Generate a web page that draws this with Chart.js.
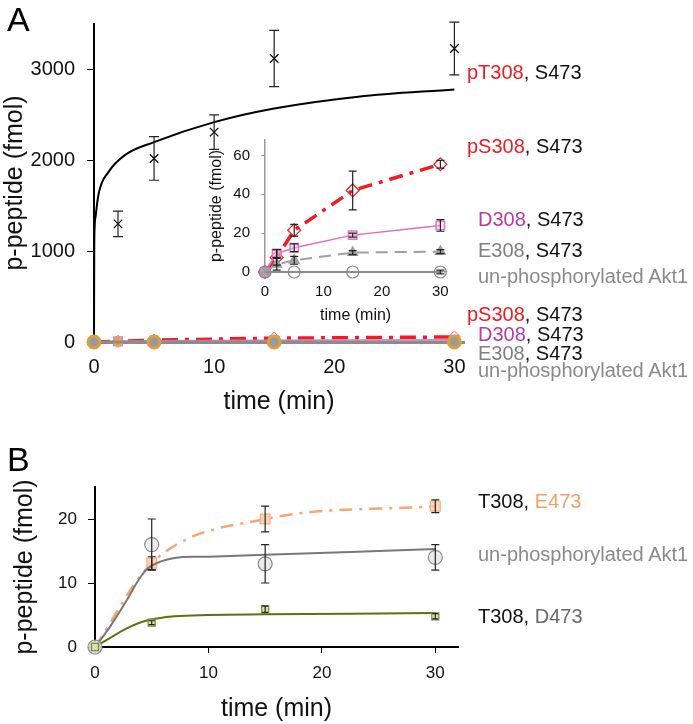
<!DOCTYPE html>
<html>
<head>
<meta charset="utf-8">
<script src="https://cdn.jsdelivr.net/npm/chart.js@4.4.1/dist/chart.umd.min.js"></script>
<style>
  body { margin: 0; background: #fff; width: 693px; height: 724px; position: relative; overflow: hidden;
         font-family: "Liberation Sans", Arial, sans-serif; }
  canvas { position: absolute; }
  .lbl { position: absolute; font-size: 20px; line-height: 20px; white-space: nowrap; color: #111; }
  .panel { position: absolute; font-size: 34px; line-height: 34px; color: #000; }
</style>
</head>
<body>
<canvas id="chartA" width="693" height="420" style="left:0;top:0"></canvas>
<canvas id="chartInset" width="260" height="210" style="left:200px;top:120px"></canvas>
<canvas id="chartB" width="693" height="284" style="left:0;top:440px"></canvas>

<div class="panel" style="left:7px;top:2px">A</div>
<div class="panel" style="left:7px;top:442px">B</div>

<div class="lbl" style="left:467px;top:62px"><span style="color:#ec1c24">pT308</span>, S473</div>
<div class="lbl" style="left:467px;top:136px"><span style="color:#ec1c24">pS308</span>, S473</div>
<div class="lbl" style="left:478px;top:209px"><span style="color:#b13ca6">D308</span>, S473</div>
<div class="lbl" style="left:478px;top:240px"><span style="color:#808080">E308</span>, S473</div>
<div class="lbl" style="left:478px;top:266px;color:#8a8a8a">un-phosphorylated Akt1</div>

<div class="lbl" style="left:467px;top:304px"><span style="color:#ec1c24">pS308</span>, S473</div>
<div class="lbl" style="left:478px;top:324px"><span style="color:#b13ca6">D308</span>, S473</div>
<div class="lbl" style="left:478px;top:343px"><span style="color:#808080">E308</span>, S473</div>
<div class="lbl" style="left:478px;top:360px;color:#8a8a8a">un-phosphorylated Akt1</div>

<div class="lbl" style="left:478px;top:491px">T308, <span style="color:#f5a06a">E473</span></div>
<div class="lbl" style="left:478px;top:544px;color:#8a8a8a">un-phosphorylated Akt1</div>
<div class="lbl" style="left:478px;top:606px">T308, <span style="color:#6a6a6a">D473</span></div>

<script>
// ---- panel A, main plot: pT308,S473 ----
const tA = [2, 5, 10, 15, 30];
const pT308 = [1300, 2020, 2310, 3120, 3230];
const pT308Err = [140, 240, 190, 310, 290];
// fitted curve
const fitAT = [0, 0.02, 0.05, 0.15, 0.4, 1.2, 2.6, 5, 10, 15, 22, 30];
const fitAY = [0, 1000, 1250, 1400, 1640, 1870, 2060, 2200, 2420, 2570, 2700, 2780];
const yTicksA = [0, 1000, 2000, 3000];

// ---- panel A, inset (also near zero in the main plot) ----
const tIn = [0, 2, 5, 15, 30];
const pS308 = [0, 7.5, 21.5, 42, 55.5];
const pS308Err = [0, 4, 3, 10, 2];
const D308 = [0, 9.5, 12.5, 19, 24];
const D308Err = [0, 2, 2, 1, 3];
const E308 = [0, 4, 6, 10, 10.5];
const E308Err = [0, 3, 2, 1, 1];
const tUn = [0, 5, 15, 30];
const unA = [0, 0, 0, 0];
const unAErr = [0, 0, 0, 1];

// ---- panel B ----
const tB = [0, 5, 15, 30];
const E473 = [0, 13.1, 20, 22];
const E473Err = [0, 1, 2, 1];
const unB = [0, 16, 13, 14];
const unBErr = [0, 4, 3, 2];
const D473 = [0, 3.8, 5.9, 4.8];
const D473Err = [0, 0.3, 0.5, 0.4];
// fitted curves
const fitUnT = [0, 1.3, 2.8, 4, 5, 7, 10, 15, 30];
const fitUnY = [0, 3.1, 7.3, 10.9, 12.7, 13.9, 14.1, 14.4, 15.3];
const fitD473T = [0, 1.3, 2.8, 4.5, 7, 10, 15, 30];
const fitD473Y = [0, 1.4, 2.9, 4.1, 4.8, 5.0, 5.1, 5.3];

const FONT = '"Liberation Sans", Arial, sans-serif';
Chart.defaults.font.family = FONT;
Chart.defaults.color = '#111';

function pts(xs, ys) {
  return xs.map((x, i) => ({x: x, y: ys[i]}));
}

// vertical error bars with caps
const errorBars = {
  id: 'errorBars',
  afterDatasetsDraw(chart) {
    const ctx = chart.ctx;
    const xs = chart.scales.x, ys = chart.scales.y;
    chart.data.datasets.forEach((ds, i) => {
      if (!ds.errors) return;
      ctx.save();
      ctx.strokeStyle = ds.errorColor || '#222';
      ctx.lineWidth = 1.2;
      ds.data.forEach((p, j) => {
        const e = ds.errors[j];
        if (!e) return;
        const x = xs.getPixelForValue(p.x);
        const y1 = ys.getPixelForValue(p.y + e);
        const y2 = ys.getPixelForValue(p.y - e);
        const c = ds.capWidth || 4;
        ctx.beginPath();
        ctx.moveTo(x, y1); ctx.lineTo(x, y2);
        ctx.moveTo(x - c, y1); ctx.lineTo(x + c, y1);
        ctx.moveTo(x - c, y2); ctx.lineTo(x + c, y2);
        ctx.stroke();
      });
      ctx.restore();
    });
  }
};

const noLegend = {legend: {display: false}, tooltip: {enabled: false}};
const plain = v => String(v);

// ---------- Panel A main ----------
new Chart(document.getElementById('chartA'), {
  type: 'line',
  data: {
    datasets: [
      {
        data: pts(fitAT, fitAY), borderColor: '#000', borderWidth: 2, pointRadius: 0,
        cubicInterpolationMode: 'monotone', clip: false, order: 9
      },
      {
        data: pts(tA, pT308), errors: pT308Err, capWidth: 5, showLine: false,
        pointStyle: 'crossRot', pointRadius: 6, borderColor: '#000', pointBorderWidth: 1.2, order: 8
      },
      {
        data: pts(tIn, pS308), borderColor: '#ee1c24', borderWidth: 3.5, borderDash: [16, 7, 4, 7],
        pointStyle: 'rectRot', pointRadius: 6, pointBorderColor: '#f06070', pointBackgroundColor: 'rgba(255,255,255,0)',
        pointBorderWidth: 1, clip: false, order: 5
      },
      {
        data: pts(tIn, D308), borderColor: '#e07ac8', borderWidth: 1.5,
        pointStyle: 'rect', pointRadius: 6, pointBorderColor: '#e07ac8', pointBackgroundColor: 'rgba(240,190,225,0.6)',
        clip: false, order: 4
      },
      {
        data: pts(tIn, E308), showLine: false,
        pointStyle: 'rect', pointRadius: 6, pointBorderColor: '#e090c0', pointBackgroundColor: '#f0a818',
        clip: false, order: 3
      },
      {
        data: pts(tUn, unA), borderColor: '#8c8c8c', borderWidth: 3,
        pointStyle: 'circle', pointRadius: 6, pointBorderColor: '#d8a040', pointBackgroundColor: '#9a9a9a',
        clip: false, order: 1
      }
    ]
  },
  options: {
    responsive: false, animation: false, devicePixelRatio: 1,
    layout: {padding: {left: 0, top: 22, right: 229, bottom: 0}},
    plugins: noLegend,
    scales: {
      x: {
        type: 'linear', min: 0, max: 30.8,
        afterFit: s => { s.height = 78; },
        grid: {display: false, drawTicks: false},
        border: {color: '#8c8c8c', width: 3},
        ticks: {stepSize: 10, includeBounds: false, padding: 13, font: {size: 20}, color: '#111', callback: plain},
        title: {display: true, text: 'time (min)', font: {size: 25}, color: '#111', padding: {bottom: 3, top: 0}}
      },
      y: {
        min: 0, max: 3500,
        afterFit: s => { s.width = 94; },
        afterBuildTicks: s => { s.ticks = yTicksA.map(v => ({value: v})); },
        grid: {drawOnChartArea: false, drawTicks: true, tickLength: 7, color: '#000'},
        border: {color: '#000', width: 2},
        ticks: {padding: 12, font: {size: 20}, color: '#111', callback: plain},
        title: {display: true, text: 'p-peptide (fmol)', font: {size: 25}, color: '#111', padding: {top: 0, bottom: 0}}
      }
    }
  },
  plugins: [errorBars]
});

// ---------- Panel A inset ----------
new Chart(document.getElementById('chartInset'), {
  type: 'line',
  data: {
    datasets: [
      {
        data: pts(tIn, pS308), errors: pS308Err, borderColor: '#ee1c24', borderWidth: 3.5,
        borderDash: [14, 7, 4, 7],
        pointStyle: 'rectRot', pointRadius: 6.5, pointBorderColor: '#ee1c24', pointBackgroundColor: 'rgba(255,255,255,0)',
        pointBorderWidth: 1.2, clip: false, order: 4
      },
      {
        data: pts(tIn, D308), errors: D308Err, borderColor: '#dc6cc0', borderWidth: 1.5,
        pointStyle: 'rect', pointRadius: 6, pointBorderColor: '#e07ac8', pointBackgroundColor: 'rgba(245,200,232,0.5)',
        pointBorderWidth: 1.5, clip: false, order: 3
      },
      {
        data: pts(tIn, E308), errors: E308Err, borderColor: '#a0a0a0', borderWidth: 2, borderDash: [12, 7],
        pointStyle: 'triangle', pointRadius: 5, pointBorderColor: '#a0a0a0', pointBackgroundColor: '#a0a0a0',
        clip: false, order: 2
      },
      {
        data: pts(tUn, unA), errors: unAErr, borderColor: '#8c8c8c', borderWidth: 2,
        pointStyle: 'circle', pointRadius: 6, pointBorderColor: '#8c8c8c', pointBackgroundColor: 'rgba(255,255,255,0)',
        pointBorderWidth: 1.2, clip: false, order: 1
      }
    ]
  },
  options: {
    responsive: false, animation: false, devicePixelRatio: 1,
    layout: {padding: {left: 0, top: 16, right: 9, bottom: 0}},
    plugins: noLegend,
    scales: {
      x: {
        type: 'linear', min: 0, max: 31,
        afterFit: s => { s.height = 58; },
        grid: {display: false, drawTicks: false},
        border: {color: '#9a9a9a', width: 1.5},
        ticks: {stepSize: 10, includeBounds: false, padding: 11, font: {size: 15}, color: '#111'},
        title: {display: true, text: 'time (min)', font: {size: 16}, color: '#111', padding: {bottom: 5, top: 0}}
      },
      y: {
        min: 0, max: 68,
        afterFit: s => { s.width = 65; },
        grid: {drawOnChartArea: false, drawTicks: true, tickLength: 4, color: '#9a9a9a'},
        border: {color: '#9a9a9a', width: 1.5},
        ticks: {stepSize: 20, includeBounds: false, padding: 11, font: {size: 15}, color: '#111'},
        title: {display: true, text: 'p-peptide (fmol)', font: {size: 16}, color: '#111', padding: {top: 7, bottom: 0}}
      }
    }
  },
  plugins: [errorBars]
});

// ---------- Panel B ----------
new Chart(document.getElementById('chartB'), {
  type: 'line',
  data: {
    datasets: [
      {
        data: pts(tB, E473), errors: E473Err, borderColor: '#f7a672', borderWidth: 2.5, borderDash: [13, 7, 3, 7],
        cubicInterpolationMode: 'monotone',
        pointStyle: 'rect', pointRadius: 7, pointBorderColor: '#f5b088', pointBackgroundColor: 'rgba(250,205,175,0.85)',
        pointBorderWidth: 1.2, clip: false, order: 5
      },
      {
        data: pts(fitUnT, fitUnY), borderColor: '#787878', borderWidth: 2, pointRadius: 0,
        tension: 0.4, clip: false, order: 3
      },
      {
        data: pts(tB, unB), errors: unBErr, showLine: false,
        pointStyle: 'circle', pointRadius: 7, pointBorderColor: '#8a8a8a', pointBackgroundColor: 'rgba(228,228,228,0.75)',
        pointBorderWidth: 1.2, clip: false, order: 2
      },
      {
        data: pts(fitD473T, fitD473Y), borderColor: '#5f7010', borderWidth: 2, pointRadius: 0,
        tension: 0.4, clip: false, order: 4
      },
      {
        data: pts(tB, D473), errors: D473Err, capWidth: 3, showLine: false,
        pointStyle: 'rect', pointRadius: 5, pointBorderColor: '#7b8b2e', pointBackgroundColor: 'rgba(215,222,175,0.9)',
        pointBorderWidth: 1.2, clip: false, order: 1
      }
    ]
  },
  options: {
    responsive: false, animation: false, devicePixelRatio: 1,
    layout: {padding: {left: 0, top: 47, right: 235, bottom: 0}},
    plugins: noLegend,
    scales: {
      x: {
        type: 'linear', min: 0, max: 32,
        afterFit: s => { s.height = 77; },
        grid: {drawOnChartArea: false, drawTicks: true, tickLength: 6, color: '#000'},
        border: {color: '#000', width: 2},
        ticks: {stepSize: 10, includeBounds: false, padding: 10, font: {size: 17}, color: '#111'},
        title: {display: true, text: 'time (min)', font: {size: 25}, color: '#111', padding: {bottom: 0, top: 0}}
      },
      y: {
        min: 0, max: 25,
        afterFit: s => { s.width = 95; },
        grid: {drawOnChartArea: false, drawTicks: true, tickLength: 7, color: '#000'},
        border: {color: '#000', width: 2},
        ticks: {stepSize: 10, includeBounds: false, padding: 11, font: {size: 17}, color: '#111'},
        title: {display: true, text: 'p-peptide (fmol)', font: {size: 25}, color: '#111', padding: {top: 10, bottom: 0}}
      }
    }
  },
  plugins: [errorBars]
});
</script>
</body>
</html>
